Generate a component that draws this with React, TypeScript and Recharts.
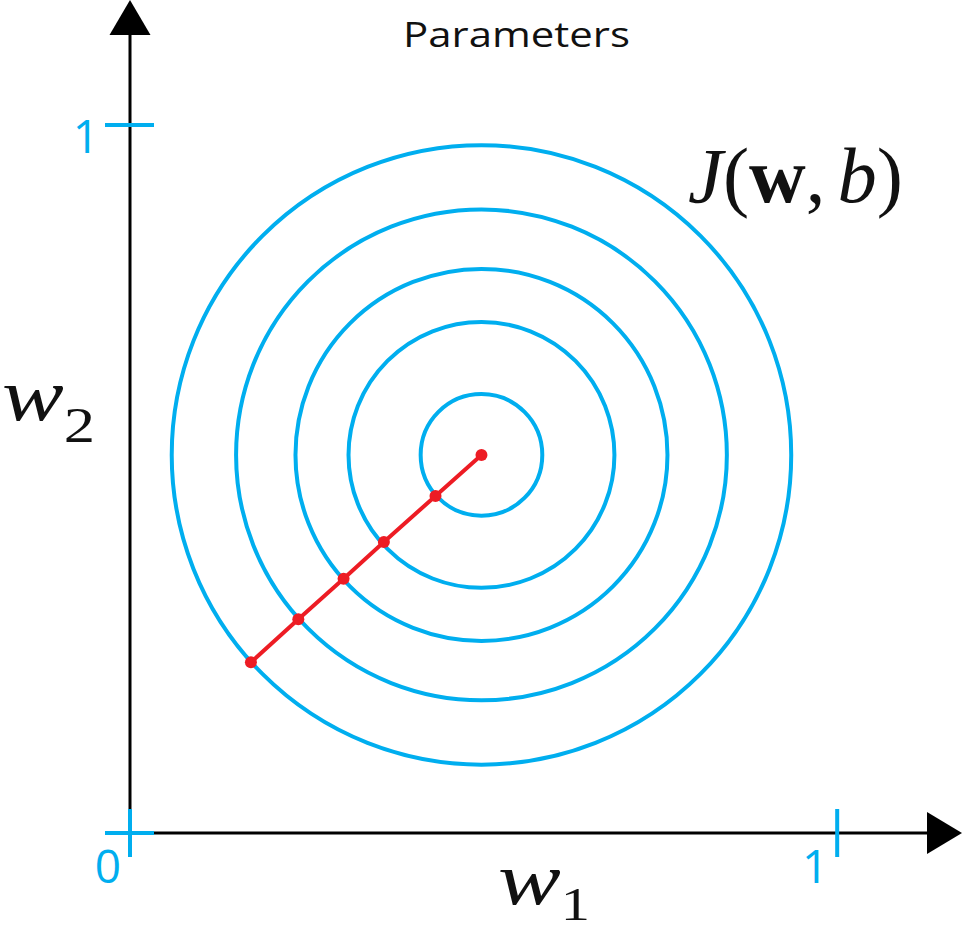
import React from 'react';
import { ScatterChart, Scatter, XAxis, YAxis, ReferenceDot } from 'recharts';

// axis ticks and their labels (the origin label is shared)
const xTicks = [0, 1];
const xTickLabels = ['0', '1'];
const yTicks = [0, 1];
const yTickLabels = ['', '1'];

// contour rings of the cost J(w,b): one centre, radii in parameter units
const ringCenter = { x: 0.497, y: 0.534 };
const ringRadii = [0.086, 0.188, 0.263, 0.347, 0.438];

// gradient descent steps, start -> minimum
const stepW1 = [0.171, 0.238, 0.302, 0.359, 0.432, 0.497];
const stepW2 = [0.241, 0.302, 0.359, 0.411, 0.476, 0.534];

const AXIS_MAX = 1.127;

const WIDTH = 963;
const HEIGHT = 933;
const MARGIN = { top: 35, right: 36, bottom: 0, left: 0 };
const Y_AXIS_W = 130;
const X_AXIS_H = 100;
const PLOT_W = WIDTH - MARGIN.left - MARGIN.right - Y_AXIS_W;
const PX_PER_UNIT = PLOT_W / AXIS_MAX;

const BLUE = '#00AEEF';
const RED = '#ED1C24';

const rings = ringRadii.map((r) => ({ x: ringCenter.x, y: ringCenter.y, r }));
const steps = stepW1.map((x, i) => ({ x, y: stepW2[i] }));

const Ring = (props: any) => {
  const { cx, cy, payload } = props;
  return (
    <circle cx={cx} cy={cy} r={payload.r * PX_PER_UNIT} fill="none" stroke={BLUE} strokeWidth={4} />
  );
};

const StepDot = (props: any) => <circle cx={props.cx} cy={props.cy} r={6} fill={RED} />;

const XTick = ({ x, y, payload }: any) => (
  <g>
    <line x1={x} y1={y - 24} x2={x} y2={y + 24} stroke={BLUE} strokeWidth={4} />
    <text x={x - 22} y={y + 50} textAnchor="middle" fill={BLUE} fontSize={46} fontFamily="'Open Sans'">
      {xTickLabels[xTicks.indexOf(payload.value)]}
    </text>
  </g>
);

const YTick = ({ x, y, payload }: any) => (
  <g>
    <line x1={x - 25} y1={y} x2={x + 24} y2={y} stroke={BLUE} strokeWidth={4} />
    <text x={x - 44} y={y + 28} textAnchor="middle" fill={BLUE} fontSize={46} fontFamily="'Open Sans'">
      {yTickLabels[yTicks.indexOf(payload.value)]}
    </text>
  </g>
);

const ArrowRight = ({ cx, cy }: any) => (
  <polygon points={`${cx},${cy - 21} ${cx + 35},${cy} ${cx},${cy + 21}`} fill="#000" />
);

const ArrowUp = ({ cx, cy }: any) => (
  <polygon points={`${cx - 20.5},${cy} ${cx},${cy - 35} ${cx + 20.5},${cy}`} fill="#000" />
);

const App = () => {
  return (
    <div style={{ position: 'absolute', left: 0, top: 0, width: WIDTH, height: HEIGHT, background: '#fff' }}>
      <ScatterChart width={WIDTH} height={HEIGHT} margin={MARGIN}>
        <XAxis
          type="number"
          dataKey="x"
          domain={[0, AXIS_MAX]}
          ticks={xTicks}
          height={X_AXIS_H}
          tickSize={0}
          tickMargin={0}
          tickLine={false}
          tick={<XTick />}
          axisLine={{ stroke: '#000', strokeWidth: 3 }}
        />
        <YAxis
          type="number"
          dataKey="y"
          domain={[0, AXIS_MAX]}
          ticks={yTicks}
          width={Y_AXIS_W}
          tickSize={0}
          tickMargin={0}
          tickLine={false}
          tick={<YTick />}
          axisLine={{ stroke: '#000', strokeWidth: 3 }}
        />
        <Scatter data={rings} shape={<Ring />} isAnimationActive={false} />
        <Scatter
          data={steps}
          shape={<StepDot />}
          line={{ stroke: RED, strokeWidth: 4 }}
          isAnimationActive={false}
        />
        <ReferenceDot x={AXIS_MAX} y={0} shape={<ArrowRight />} ifOverflow="visible" />
        <ReferenceDot x={0} y={AXIS_MAX} shape={<ArrowUp />} ifOverflow="visible" />
        <text
          x={403}
          y={47}
          fontFamily="'Open Sans'"
          fontSize={34}
          fill="#111"
          textLength={227}
          lengthAdjust="spacingAndGlyphs"
        >
          Parameters
        </text>
        <text
          x={688}
          y={202}
          fontFamily="'Liberation Serif', serif"
          fontSize={78}
          fill="#111"
          textLength={215}
          lengthAdjust="spacingAndGlyphs"
        >
          <tspan fontStyle="italic">J</tspan>
          <tspan>(</tspan>
          <tspan fontWeight="bold">w</tspan>
          <tspan>,</tspan>
          <tspan fontStyle="italic" dx={12}>b</tspan>
          <tspan>)</tspan>
        </text>
        <text
          x={2}
          y={420}
          fontFamily="'Liberation Serif', serif"
          fontStyle="italic"
          fontSize={74}
          fill="#111"
          textLength={93}
          lengthAdjust="spacingAndGlyphs"
        >
          w
          <tspan fontStyle="normal" fontSize={50} dy={22}>2</tspan>
        </text>
        <text
          x={498}
          y={904}
          fontFamily="'Liberation Serif', serif"
          fontStyle="italic"
          fontSize={74}
          fill="#111"
          textLength={92}
          lengthAdjust="spacingAndGlyphs"
        >
          w
          <tspan fontStyle="normal" fontSize={46} dy={16}>1</tspan>
        </text>
      </ScatterChart>
    </div>
  );
};

export default App;
